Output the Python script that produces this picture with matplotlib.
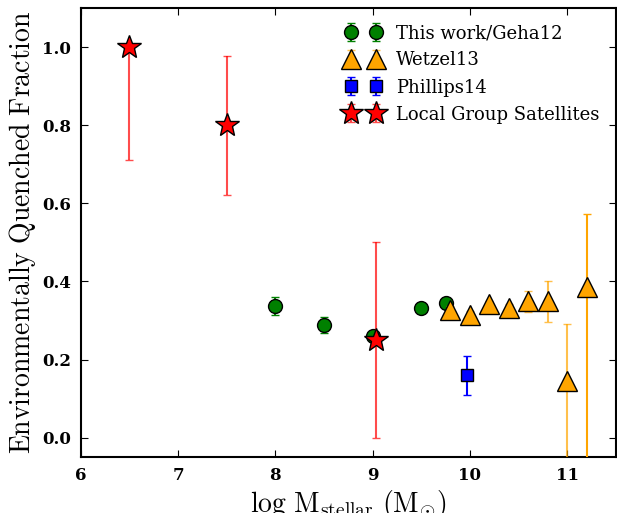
import matplotlib
matplotlib.use("Agg")
import matplotlib.pyplot as plt

plt.rcParams["mathtext.fontset"] = "cm"
plt.rcParams["font.family"] = "DejaVu Serif"

# This work / Geha12
geha_x = [8.0, 8.5, 9.0, 9.5, 9.75]
geha_y = [0.337, 0.289, 0.26, 0.333, 0.344]
geha_err = [0.024, 0.02, 0.0, 0.0, 0.0]

# Wetzel13
wetzel_x = [9.8, 10.0, 10.2, 10.4, 10.6, 10.8, 11.0]
wetzel_y = [0.327, 0.313, 0.341, 0.333, 0.349, 0.349, 0.145]
wetzel_lo = [0.01, 0.01, 0.01, 0.01, 0.027, 0.053, 0.3]
wetzel_hi = [0.01, 0.01, 0.01, 0.01, 0.027, 0.053, 0.147]

wetzel_hi_x = [11.2]
wetzel_hi_y = [0.387]
wetzel_hi_lo = [0.5]
wetzel_hi_hi = [0.186]

# Phillips14
phillips_x = [9.97]
phillips_y = [0.16]
phillips_err = [0.05]

# Local Group satellites
lg_x = [6.5, 7.5, 9.03]
lg_y = [1.0, 0.8, 0.25]
lg_lo = [0.29, 0.178, 0.25]
lg_hi = [0.0, 0.178, 0.25]

fig = plt.figure(figsize=(6.17, 5.13), dpi=100)
ax = fig.add_axes([0.131, 0.109, 0.867, 0.875])

ax.errorbar(geha_x, geha_y, yerr=geha_err, fmt="o", color="green", ecolor="green",
            mec="black", ms=10, capsize=3, label="This work/Geha12", zorder=2)
ax.errorbar(wetzel_x, wetzel_y, yerr=[wetzel_lo, wetzel_hi], fmt="^", color="orange",
            ecolor=(1.0, 0.65, 0.0, 0.7), mec="black", ms=15, capsize=3,
            label="Wetzel13", zorder=3)
ax.errorbar(wetzel_hi_x, wetzel_hi_y, yerr=[wetzel_hi_lo, wetzel_hi_hi], fmt="^",
            color="orange", ecolor="orange", mec="black", ms=15, capsize=3, zorder=3)
ax.errorbar(phillips_x, phillips_y, yerr=phillips_err, fmt="s", color="blue",
            ecolor="blue", mec="black", ms=9, capsize=3, label="Phillips14", zorder=4)
ax.errorbar(lg_x, lg_y, yerr=[lg_lo, lg_hi], fmt="*", color="red",
            ecolor=(1.0, 0.0, 0.0, 0.7), mec="black", ms=18, capsize=3,
            label="Local Group Satellites", zorder=5)

ax.set_xlim(6, 11.5)
ax.set_ylim(-0.05, 1.1)
ax.set_xticks([6, 7, 8, 9, 10, 11])
ax.set_yticks([0.0, 0.2, 0.4, 0.6, 0.8, 1.0])
ax.set_yticklabels(["0.0", "0.2", "0.4", "0.6", "0.8", "1.0"])
ax.tick_params(direction="in", top=True, right=True, length=5, labelsize=12, pad=7)
for lab in ax.get_xticklabels() + ax.get_yticklabels():
    lab.set_fontweight("bold")
for sp in ax.spines.values():
    sp.set_linewidth(1.5)

ax.set_xlabel(r"$\mathrm{log\ M_{stellar}\ (M_{\odot})}$", fontsize=20, labelpad=3)
ax.set_ylabel(r"$\mathrm{Environmentally\ Quenched\ Fraction}$", fontsize=20, labelpad=3)

ax.legend(loc="upper right", numpoints=2, frameon=False, fontsize=13)

fig.savefig("out.png", dpi=100)
